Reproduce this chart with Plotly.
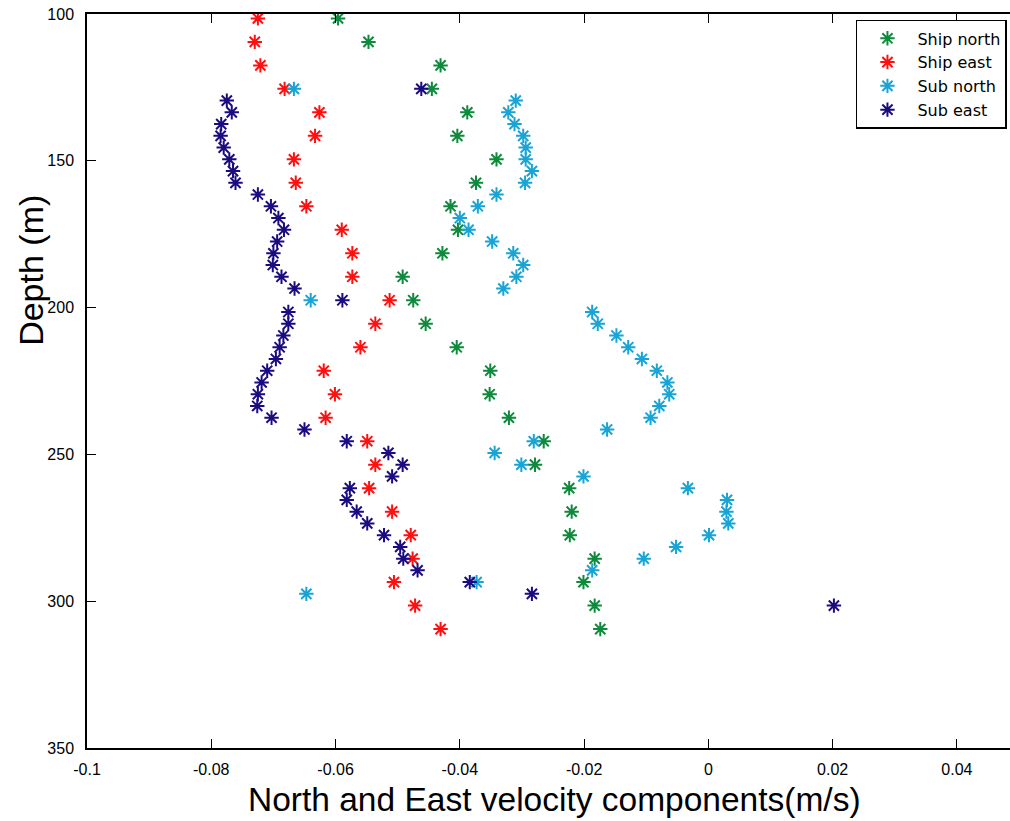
import plotly.graph_objects as go

# Ship ADCP bins (m)
ship_depth = [101.5, 109.5, 117.5, 125.5, 133.5, 141.5, 149.5, 157.5, 165.5, 173.5,
              181.5, 189.5, 197.5, 205.5, 213.5, 221.5, 229.5, 237.5, 245.5, 253.5,
              261.5, 269.5, 277.5, 285.5, 293.5, 301.5, 309.5]
ship_north = [-0.0596, -0.0547, -0.0431, -0.0445, -0.0388, -0.0404, -0.0341, -0.0374, -0.0415, -0.0403,
              -0.0428, -0.0492, -0.0475, -0.0455, -0.0405, -0.0351, -0.0352, -0.0321, -0.0265, -0.0279,
              -0.0224, -0.0220, -0.0223, -0.0183, -0.0201, -0.0183, -0.0174]
ship_east = [-0.0725, -0.0730, -0.0721, -0.0682, -0.0626, -0.0633, -0.0667, -0.0664, -0.0647, -0.0590,
             -0.0573, -0.0573, -0.0513, -0.0536, -0.0560, -0.0619, -0.0601, -0.0616, -0.0549, -0.0536,
             -0.0546, -0.0509, -0.0479, -0.0476, -0.0506, -0.0472, -0.0431]

# Sub bins (m)
sub_depth = [125.5, 129.5, 133.5, 137.5, 141.5, 145.5, 149.5, 153.5, 157.5, 161.5,
             165.5, 169.5, 173.5, 177.5, 181.5, 185.5, 189.5, 193.5, 197.5, 201.5,
             205.5, 209.5, 213.5, 217.5, 221.5, 225.5, 229.5, 233.5, 237.5, 241.5,
             245.5, 249.5, 253.5, 257.5, 261.5, 265.5, 269.5, 273.5, 277.5, 281.5,
             285.5, 289.5, 293.5, 297.5, 301.5]
sub_north = [-0.0667, -0.0310, -0.0322, -0.0312, -0.0298, -0.0294, -0.0294, -0.0284, -0.0295, -0.0341,
             -0.0371, -0.0400, -0.0386, -0.0348, -0.0314, -0.0298, -0.0309, -0.0330, -0.0640, -0.0187,
             -0.0178, -0.0148, -0.0129, -0.0107, -0.0083, -0.0066, -0.0063, -0.0079, -0.0093, -0.0163,
             -0.0281, -0.0344, -0.0301, -0.0201, -0.0033, 0.0030, 0.0029, 0.0032, 0.0001, -0.0052,
             -0.0104, -0.0187, -0.0373, -0.0647, None]
sub_east = [-0.0462, -0.0775, -0.0767, -0.0784, -0.0785, -0.0780, -0.0771, -0.0765, -0.0761, -0.0725,
            -0.0704, -0.0692, -0.0683, -0.0694, -0.0700, -0.0701, -0.0687, -0.0666, -0.0589, -0.0676,
            -0.0676, -0.0684, -0.0690, -0.0696, -0.0710, -0.0719, -0.0725, -0.0726, -0.0703, -0.0650,
            -0.0582, -0.0515, -0.0492, -0.0509, -0.0577, -0.0582, -0.0566, -0.0549, -0.0522, -0.0496,
            -0.0491, -0.0468, -0.0384, -0.0284, 0.0202]

x_ticks = [-0.1, -0.08, -0.06, -0.04, -0.02, 0, 0.02, 0.04]
x_tick_text = ["-0.1", "-0.08", "-0.06", "-0.04", "-0.02", "0", "0.02", "0.04"]
y_ticks = [100, 150, 200, 250, 300, 350]
x_title = "North and East velocity components(m/s)"
y_title = "Depth (m)"

series = [
    ("Ship north", ship_north, ship_depth, "#0f8a3c"),
    ("Ship east", ship_east, ship_depth, "#ff1010"),
    ("Sub north", sub_north, sub_depth, "#18a4d4"),
    ("Sub east", sub_east, sub_depth, "#1a0c80"),
]

fig = go.Figure()
for name, xv, yv, col in series:
    fig.add_trace(go.Scatter(
        x=xv, y=yv, mode="markers", name=name,
        marker=dict(symbol="asterisk-open", size=12, color=col,
                    line=dict(color=col, width=2)),
    ))

font_family = "Liberation Sans, Arial, Helvetica, sans-serif"

fig.update_layout(
    width=1010, height=821,
    margin=dict(l=87, r=0, t=14, b=73, autoexpand=False),
    paper_bgcolor="white", plot_bgcolor="white",
    font=dict(family=font_family, color="black", size=16),
    showlegend=True,
    legend=dict(
        x=0.9967, y=0.992, xanchor="right", yanchor="top",
        bgcolor="white", bordercolor="black", borderwidth=1.5,
        font=dict(family="DejaVu Sans, Liberation Sans, sans-serif", size=16),
        itemwidth=50, itemsizing="constant", tracegroupgap=0,
        entrywidth=118, entrywidthmode="pixels",
    ),
    xaxis=dict(
        range=[-0.1, 0.04854], tickvals=x_ticks, ticktext=x_tick_text,
        ticks="inside", ticklen=9, tickwidth=1.2, tickcolor="black",
        showline=True, linecolor="black", linewidth=1.5, mirror="ticks",
        showgrid=False, zeroline=False, automargin=False,
        tickfont=dict(size=16), ticklabelstandoff=6, ticklabeloverflow="allow",
    ),
    yaxis=dict(
        range=[350, 100], tickvals=y_ticks,
        ticks="inside", ticklen=9, tickwidth=1.2, tickcolor="black",
        showline=True, linecolor="black", linewidth=1.5, mirror=False,
        showgrid=False, zeroline=False, automargin=False,
        tickfont=dict(size=16), ticklabelstandoff=8, ticklabeloverflow="allow",
    ),
    # right-hand ticks only (the right border of the original lies past the crop)
    yaxis2=dict(
        overlaying="y", side="right", anchor="x", matches="y",
        range=[350, 100], tickvals=y_ticks, showticklabels=False,
        ticks="inside", ticklen=9, tickwidth=1.2, tickcolor="black",
        showline=False, showgrid=False, zeroline=False, automargin=False,
    ),
    annotations=[
        dict(text=x_title, xref="paper", yref="paper", x=0.507, y=-0.0708,
             xanchor="center", yanchor="middle", showarrow=False,
             font=dict(size=33.5)),
        dict(text=y_title, xref="paper", yref="paper", x=-0.061, y=0.651,
             xanchor="center", yanchor="middle", showarrow=False,
             textangle=-90, font=dict(size=34)),
    ],
)

fig.write_html("out.html", config={"displayModeBar": False},
               post_script="document.body.style.margin='0px';")
